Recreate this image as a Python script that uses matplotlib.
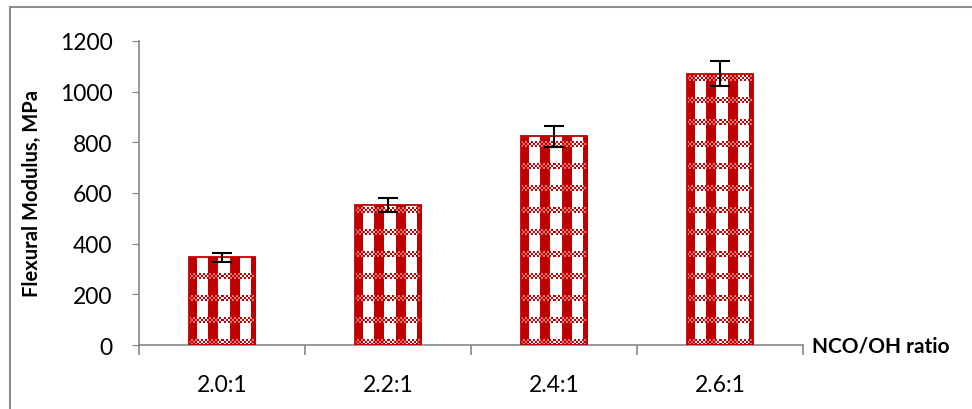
import numpy as np
import matplotlib.pyplot as plt
from matplotlib.lines import Line2D

# DATA
ratios = ["2.0:1", "2.2:1", "2.4:1", "2.6:1"]
modulus = [346, 551, 823, 1071]
modulus_err = [17, 28, 42, 51]

RED = "#C00000"


def gingham(w_px, h_px):
    # BUILD A RED/WHITE CHECKED TEXTURE, ONE CELL PER SCREEN PIXEL
    img = np.ones((h_px, w_px, 3))
    red = np.array([0.753, 0.0, 0.0])
    pink = np.array([0.88, 0.45, 0.45])
    for i in range(h_px):
        for j in range(w_px):
            col_red = ((j + 2) % 21) < 10
            band = (i % 22) < 6
            if band:
                if (i // 2 + j // 2) % 2 == 0:
                    img[i, j] = red
                else:
                    img[i, j] = pink if col_red else [1, 1, 1]
            else:
                if col_red:
                    img[i, j] = red
    return img


fig = plt.figure(figsize=(9.72, 4.10), dpi=100)
plt.rcParams['font.family'] = ['Lato', 'DejaVu Sans']
ax = fig.add_axes([0.143, 0.156, 0.683, 0.742])

x = np.arange(len(ratios))
bars = ax.bar(x, modulus, width=0.4, facecolor="none", edgecolor=RED,
              linewidth=1.3, zorder=3)
ax.errorbar(x, modulus, yerr=modulus_err, fmt="none", ecolor="black",
            elinewidth=1.5, capsize=7, capthick=1.5, zorder=4)

ax.set_xlim(-0.5, len(ratios) - 0.5)
ax.set_ylim(0, 1200)
fig.canvas.draw()

# FILL EACH BAR WITH THE CHECKED TEXTURE, CLIPPED TO THE BAR
for b in bars:
    ext = b.get_window_extent()
    img = gingham(max(int(round(ext.width)), 1), max(int(round(ext.height)), 1))
    im = ax.imshow(img, extent=(b.get_x(), b.get_x() + b.get_width(), 0, b.get_height()),
                   origin="lower", aspect="auto", interpolation="nearest", zorder=2)
    im.set_clip_path(b)

ax.set_xlim(-0.5, len(ratios) - 0.5)
ax.set_ylim(0, 1200)

# EXCEL-LIKE AXES
for s in ["top", "right"]:
    ax.spines[s].set_visible(False)
ax.spines["left"].set_color("#868686")
ax.spines["bottom"].set_color("#868686")
ax.spines["left"].set_linewidth(1.2)
ax.spines["bottom"].set_linewidth(1.2)

ax.set_yticks(range(0, 1201, 200))
ax.tick_params(axis="y", direction="out", length=5, color="#868686",
               labelsize=16.5, pad=14)
ax.set_xticks(x)
ax.set_xticklabels(ratios)
ax.tick_params(axis="x", length=0, labelsize=16.5, pad=21)
ax.set_xticks(np.arange(-0.5, len(ratios)), minor=True)
ax.tick_params(axis="x", which="minor", direction="out", length=7,
               color="#868686", width=1.2)

ax.set_ylabel("Flexural Modulus, MPa", fontsize=14.5, fontweight="bold",
              labelpad=13)
ax.text(1.013, 0.0, "NCO/OH ratio", transform=ax.transAxes, fontsize=15,
        fontweight="bold", ha="left", va="center")

# PARTIAL FRAME ROUND THE CHART (ONLY TOP AND LEFT VISIBLE)
fig.add_artist(Line2D([9.5 / 972, 9.5 / 972], [0, 1 - 7.5 / 410],
                      transform=fig.transFigure, color="#8c8c8c", lw=1.5))
fig.add_artist(Line2D([9.5 / 972, 1], [1 - 7.5 / 410, 1 - 7.5 / 410],
                      transform=fig.transFigure, color="#8c8c8c", lw=1.5))

fig.savefig("out.png", dpi=100)
